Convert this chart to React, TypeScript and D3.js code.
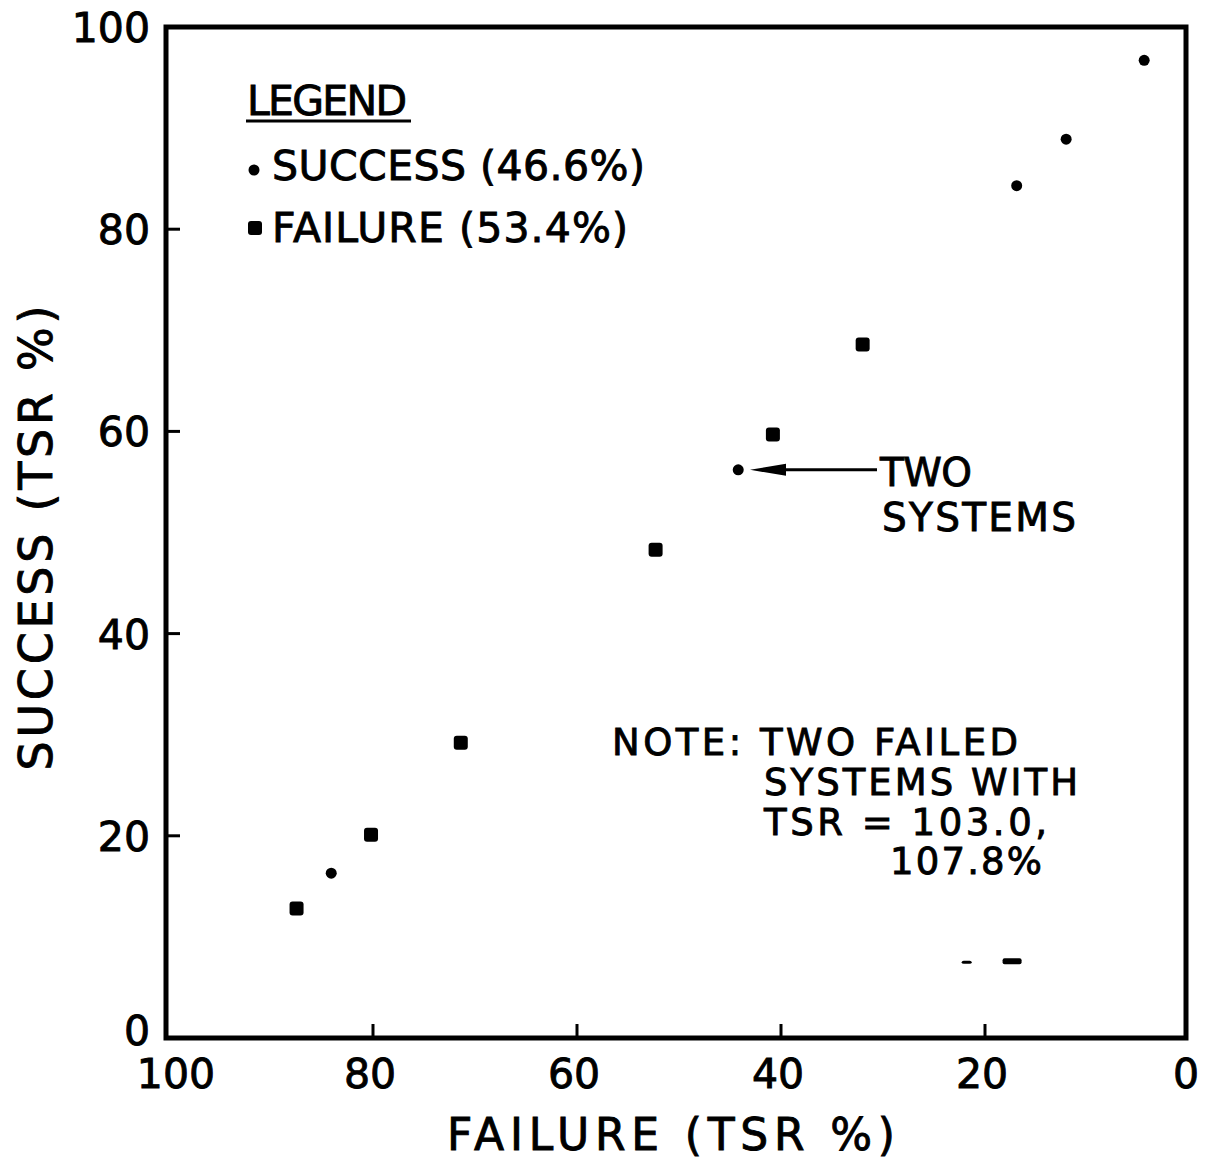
import * as d3 from 'd3'
import { useEffect, useRef } from 'react'

// values (TSR %)
const successX = [4.1, 11.75, 16.6, 43.9, 83.8]
const successY = [96.7, 88.9, 84.3, 56.2, 16.3]
const failureX = [31.7, 40.5, 52.0, 71.1, 79.9, 87.2]
const failureY = [68.6, 59.7, 48.3, 29.2, 20.1, 12.8]
// two smudge marks near the bottom right
const strayX = [21.5, 17.1]
const strayY = [7.5, 7.6]
const xTicks = [100, 80, 60, 40, 20, 0]
const yTicks = [0, 20, 40, 60, 80, 100]

const FONT = '"DejaVu Sans", sans-serif'

const App = () => {
  const ref = useRef<SVGSVGElement>(null)

  useEffect(() => {
    const width = 1211
    const height = 1161
    const svg = d3.select(ref.current)
    svg.selectAll('*').remove()
    svg.attr('width', width).attr('height', height)

    const x = d3.scaleLinear().domain([100, 0]).range([166, 1186])
    const y = d3.scaleLinear().domain([0, 100]).range([1038, 27])

    const g = svg.append('g')

    // frame
    g.append('rect')
      .attr('x', x(100))
      .attr('y', y(100))
      .attr('width', x(0) - x(100))
      .attr('height', y(0) - y(100))
      .attr('fill', 'none')
      .attr('stroke', '#000')
      .attr('stroke-width', 5)

    // ticks inside the frame
    g.selectAll('.xt')
      .data(xTicks.filter((d) => d > 0 && d < 100))
      .join('line')
      .attr('x1', (d) => x(d) + 3)
      .attr('x2', (d) => x(d) + 3)
      .attr('y1', y(0))
      .attr('y2', y(0) - 14)
      .attr('stroke', '#000')
      .attr('stroke-width', 3)

    g.selectAll('.yt')
      .data(yTicks.filter((d) => d > 0 && d < 100))
      .join('line')
      .attr('x1', x(100))
      .attr('x2', x(100) + 14)
      .attr('y1', (d) => y(d))
      .attr('y2', (d) => y(d))
      .attr('stroke', '#000')
      .attr('stroke-width', 3)

    const heavy = (sel, w = 0.9) => sel.attr('stroke', '#000').attr('stroke-width', w)

    // tick labels
    heavy(
      g.selectAll('.xl')
        .data(xTicks)
        .join('text')
        .attr('x', (d) => x(d) + (d === 100 ? 10 : 0))
        .attr('y', 1088)
        .attr('text-anchor', 'middle')
        .style('font-family', FONT)
        .style('font-size', '41px')
        .text((d) => d)
    )

    heavy(
      g.selectAll('.yl')
        .data(yTicks)
        .join('text')
        .attr('x', 150)
        .attr('y', (d) => y(d) + 15 - (d === 0 ? 8 : 0))
        .attr('text-anchor', 'end')
        .style('font-family', FONT)
        .style('font-size', '41px')
        .text((d) => d)
    )

    // axis titles
    heavy(
      svg.append('text')
        .attr('x', 671)
        .attr('y', 1150)
        .attr('text-anchor', 'middle')
        .attr('textLength', 448)
        .attr('lengthAdjust', 'spacing')
        .style('font-family', FONT)
        .style('font-size', '44px')
        .text('FAILURE (TSR %)')
    )

    heavy(
      svg.append('text')
        .attr('transform', 'translate(52, 538) rotate(-90)')
        .attr('text-anchor', 'middle')
        .attr('textLength', 465)
        .attr('lengthAdjust', 'spacing')
        .style('font-family', FONT)
        .style('font-size', '46px')
        .text('SUCCESS (TSR %)')
    )

    // points
    g.selectAll('.s')
      .data(successX)
      .join('circle')
      .attr('cx', (d) => x(d))
      .attr('cy', (d, i) => y(successY[i]))
      .attr('r', 5.5)
      .attr('fill', '#000')

    g.selectAll('.f')
      .data(failureX)
      .join('rect')
      .attr('x', (d) => x(d) - 7)
      .attr('y', (d, i) => y(failureY[i]) - 7)
      .attr('width', 14)
      .attr('height', 14)
      .attr('rx', 3)
      .attr('fill', '#000')

    g.selectAll('.st')
      .data(strayX)
      .join('rect')
      .attr('x', (d, i) => x(d) - (i === 0 ? 5 : 9))
      .attr('y', (d, i) => y(strayY[i]) - (i === 0 ? 1.5 : 3))
      .attr('width', (d, i) => (i === 0 ? 10 : 19))
      .attr('height', (d, i) => (i === 0 ? 3 : 6))
      .attr('rx', 2)
      .attr('fill', '#000')

    // legend
    const txt = (tx, ty, s, len, size = 41, anchor = 'start') =>
      heavy(
        svg.append('text')
          .attr('x', tx)
          .attr('y', ty)
          .attr('text-anchor', anchor)
          .attr('textLength', len)
          .attr('lengthAdjust', 'spacing')
          .style('font-family', FONT)
          .style('font-size', size + 'px')
          .text(s)
      )

    txt(247, 115, 'LEGEND', 160)
    svg.append('line')
      .attr('x1', 246).attr('x2', 411)
      .attr('y1', 121).attr('y2', 121)
      .attr('stroke', '#000').attr('stroke-width', 3)
    svg.append('circle').attr('cx', 254).attr('cy', 170).attr('r', 5.5).attr('fill', '#000')
    txt(272, 180, 'SUCCESS (46.6%)', 373)
    svg.append('rect').attr('x', 248).attr('y', 221).attr('width', 14).attr('height', 14)
      .attr('rx', 3).attr('fill', '#000')
    txt(272, 242, 'FAILURE (53.4%)', 356)

    // arrow annotation
    const ay = y(successY[3])
    svg.append('line')
      .attr('x1', 770).attr('x2', 877)
      .attr('y1', ay).attr('y2', ay)
      .attr('stroke', '#000').attr('stroke-width', 3)
    svg.append('path')
      .attr('d', `M750,${ay} L786,${ay - 6} L786,${ay + 6} Z`)
      .attr('fill', '#000')
    txt(880, 486, 'TWO', 92, 39)
    txt(882, 531, 'SYSTEMS', 194, 39)

    // note
    txt(612, 755, 'NOTE: TWO FAILED', 406, 37)
    txt(764, 795, 'SYSTEMS WITH', 314, 37)
    txt(764, 835, 'TSR = 103.0,', 283, 37)
    txt(890, 874, '107.8%', 152, 37)
  }, [])

  return (
    <div>
      <svg ref={ref} style={{ position: 'absolute', left: 0, top: 0, background: '#fff' }}></svg>
    </div>
  )
}

export default App
